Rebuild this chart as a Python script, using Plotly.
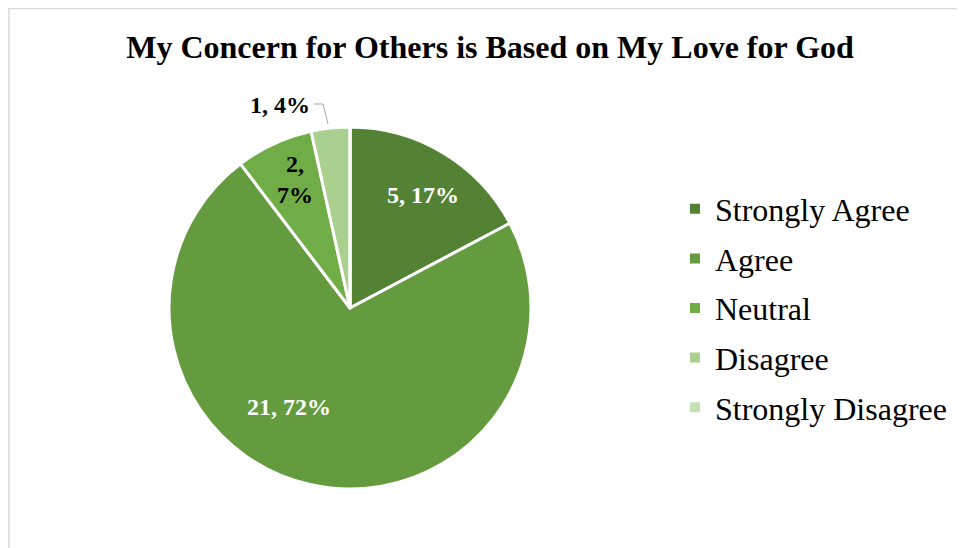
import plotly.graph_objects as go

# Survey responses
categories = ['Strongly Agree', 'Agree', 'Neutral', 'Disagree', 'Strongly Disagree']
counts = [5, 21, 2, 1, 0]
percent_labels = ['17%', '72%', '7%', '4%', '0%']
colors = ['#548235', '#639b3e', '#70ad47', '#a9d08e', '#c5e0b4']

W, H = 965, 548
OX, OY = 8, 8  # page body margin in the browser


def px(x):
    return (x - OX) / W


def py(y):
    return 1 - (y - OY) / H


cx, cy, r = 350, 308, 181

fig = go.Figure()
fig.add_trace(go.Pie(
    labels=categories,
    values=counts,
    textinfo='none',
    marker=dict(colors=colors, line=dict(color='white', width=3)),
    sort=False,
    direction='clockwise',
    rotation=0,
    showlegend=False,
    domain=dict(x=[px(cx - r), px(cx + r)], y=[py(cy + r), py(cy - r)]),
))

# legend entries (separate groups so spacing can be set)
for cat, col in zip(categories, colors):
    fig.add_trace(go.Scatter(
        x=[None], y=[None], mode='markers', name=cat, legendgroup=cat,
        marker=dict(symbol='square', size=10, color=col),
    ))

# data labels
label_font = dict(family='Liberation Serif', size=24)
label_pos = {
    'Strongly Agree': (423, 195, 'white'),
    'Agree': (289, 407, 'white'),
    'Neutral': (295, 180, 'black'),
}
for cat, c, p in zip(categories, counts, percent_labels):
    if cat not in label_pos:
        continue
    x, y, fc = label_pos[cat]
    txt = f"<b>{c},<br>{p}</b>" if cat == 'Neutral' else f"<b>{c}, {p}</b>"
    fig.add_annotation(x=px(x), y=py(y), xref='paper', yref='paper', text=txt,
                       showarrow=False, font=dict(color=fc, **label_font),
                       xanchor='center', yanchor='middle')

# outside label for the Disagree slice with its leader line
i = categories.index('Disagree')
fig.add_annotation(x=px(280), y=py(105), xref='paper', yref='paper',
                   text=f"<b>{counts[i]}, {percent_labels[i]}</b>",
                   showarrow=False, font=dict(color='black', **label_font),
                   xanchor='center', yanchor='middle')
fig.add_shape(type='path', xref='paper', yref='paper',
              path=f"M {px(314)} {py(104)} L {px(323)} {py(104)} L {px(328)} {py(124)}",
              line=dict(color='#a6a6a6', width=1))

# chart-area border (left and top edges)
fig.add_shape(type='line', xref='paper', yref='paper', x0=0.001, x1=0.001, y0=0, y1=1,
              line=dict(color='#d9d9d9', width=1.5))
fig.add_shape(type='line', xref='paper', yref='paper', x0=0, x1=1, y0=0.999, y1=0.999,
              line=dict(color='#d9d9d9', width=1.5))

fig.update_layout(
    width=W, height=H,
    margin=dict(l=0, r=0, t=0, b=0),
    paper_bgcolor='white',
    plot_bgcolor='white',
    xaxis=dict(visible=False),
    yaxis=dict(visible=False),
    title=dict(
        text='<b>My Concern for Others is Based on My Love for God</b>',
        x=px(490), xanchor='center', y=py(47), yanchor='middle',
        font=dict(family='Liberation Serif', size=32, color='black'),
    ),
    showlegend=True,
    legend=dict(
        x=px(675), xanchor='left', y=py(308), yanchor='middle',
        font=dict(family='Liberation Serif', size=32, color='black'),
        itemsizing='trace',
        tracegroupgap=5,
        bgcolor='rgba(0,0,0,0)',
    ),
)

fig.write_html("out.html")
